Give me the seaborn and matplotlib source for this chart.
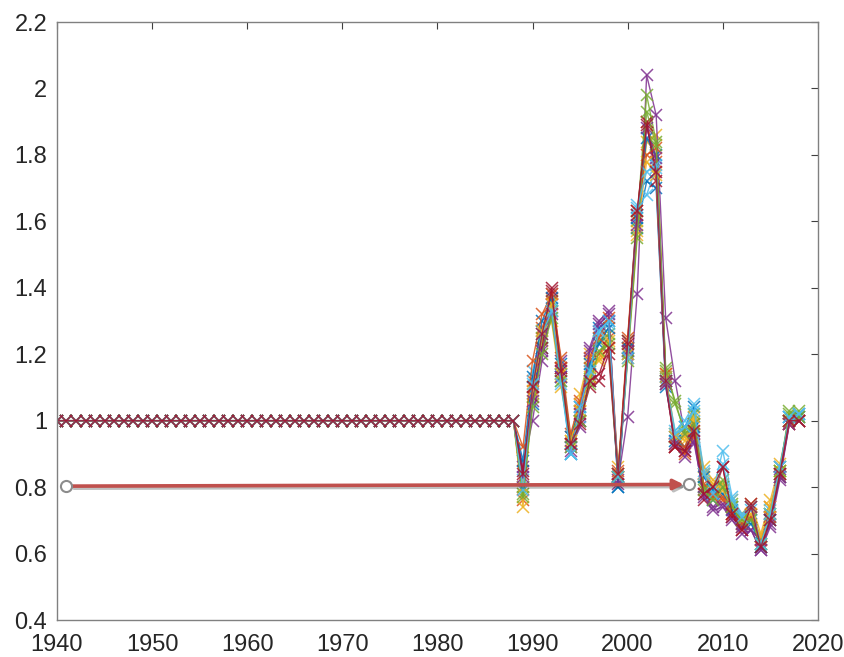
import numpy as np
import pandas as pd
import matplotlib
matplotlib.use("Agg")
import matplotlib.pyplot as plt
import matplotlib.patheffects as pe
import seaborn as sns

# Years: flat part (all series equal to 1) and the varying part
years_flat = list(range(1940, 1989))
years_var = list(range(1989, 2019))
flat_value = 1.0

# One list per series, 1989..2018
s01 = [0.80, 1.05, 1.22, 1.33, 1.13, 0.90, 1.00, 1.12, 1.28, 1.30, 0.80, 1.20, 1.58, 1.72, 1.70,
       1.10, 0.95, 0.98, 1.04, 0.80, 0.76, 0.80, 0.74, 0.71, 0.70, 0.62, 0.71, 0.83, 1.01, 1.02]
s02 = [0.76, 1.12, 1.28, 1.35, 1.16, 0.95, 1.05, 1.18, 1.20, 1.25, 0.84, 1.22, 1.62, 1.90, 1.78,
       1.12, 0.92, 0.90, 0.95, 0.84, 0.80, 0.76, 0.72, 0.68, 0.74, 0.64, 0.74, 0.86, 0.99, 1.00]
s03 = [0.74, 1.08, 1.24, 1.30, 1.10, 0.94, 1.08, 1.20, 1.18, 1.22, 0.86, 1.19, 1.56, 1.84, 1.86,
       1.14, 0.96, 0.94, 1.00, 0.86, 0.82, 0.81, 0.76, 0.72, 0.75, 0.66, 0.76, 0.87, 1.00, 1.01]
s04 = [0.86, 1.00, 1.18, 1.38, 1.18, 0.92, 0.98, 1.22, 1.30, 1.33, 0.82, 1.01, 1.38, 2.04, 1.92,
       1.31, 1.12, 0.96, 0.93, 0.78, 0.74, 0.75, 0.71, 0.68, 0.67, 0.61, 0.68, 0.82, 0.99, 1.00]
s05 = [0.78, 1.10, 1.25, 1.36, 1.14, 0.93, 1.03, 1.16, 1.24, 1.26, 0.83, 1.24, 1.60, 1.98, 1.84,
       1.16, 1.05, 0.97, 1.02, 0.80, 0.77, 0.82, 0.75, 0.70, 0.71, 0.63, 0.72, 0.85, 1.02, 1.03]
s06 = [0.82, 1.15, 1.27, 1.34, 1.12, 0.90, 1.01, 1.14, 1.26, 1.29, 0.84, 1.21, 1.65, 1.68, 1.76,
       1.12, 0.97, 1.00, 1.05, 0.85, 0.79, 0.91, 0.77, 0.72, 0.73, 0.63, 0.73, 0.86, 1.01, 1.02]
s07 = [0.85, 1.07, 1.22, 1.40, 1.16, 0.93, 1.00, 1.10, 1.12, 1.20, 0.83, 1.24, 1.62, 1.90, 1.72,
       1.11, 0.92, 0.91, 0.96, 0.76, 0.78, 0.86, 0.71, 0.67, 0.75, 0.62, 0.70, 0.83, 1.00, 1.00]
s08 = [0.88, 1.13, 1.30, 1.37, 1.17, 0.95, 1.04, 1.17, 1.23, 1.28, 0.80, 1.22, 1.61, 1.85, 1.80,
       1.13, 0.94, 0.92, 0.98, 0.83, 0.79, 0.78, 0.73, 0.69, 0.69, 0.62, 0.70, 0.84, 1.00, 1.01]
s09 = [0.92, 1.18, 1.32, 1.38, 1.19, 0.96, 1.06, 1.19, 1.25, 1.31, 0.85, 1.25, 1.63, 1.80, 1.82,
       1.14, 0.93, 0.92, 0.99, 0.81, 0.77, 0.77, 0.72, 0.69, 0.71, 0.64, 0.71, 0.84, 0.99, 1.00]
s10 = [0.80, 1.09, 1.27, 1.35, 1.14, 0.94, 1.03, 1.13, 1.19, 1.24, 0.84, 1.20, 1.57, 1.78, 1.74,
       1.13, 0.95, 0.95, 1.01, 0.84, 0.81, 0.79, 0.74, 0.70, 0.72, 0.65, 0.74, 0.85, 1.00, 1.00]
s11 = [0.83, 1.06, 1.21, 1.32, 1.13, 0.91, 1.02, 1.21, 1.29, 1.32, 0.81, 1.21, 1.59, 1.88, 1.79,
       1.11, 0.93, 0.89, 0.94, 0.77, 0.73, 0.74, 0.70, 0.66, 0.67, 0.61, 0.69, 0.83, 0.99, 1.00]
s12 = [0.77, 1.04, 1.20, 1.31, 1.12, 0.92, 1.00, 1.11, 1.21, 1.23, 0.83, 1.18, 1.55, 1.93, 1.83,
       1.15, 1.06, 0.96, 0.99, 0.79, 0.76, 0.80, 0.74, 0.70, 0.70, 0.63, 0.72, 0.85, 1.03, 1.01]
s13 = [0.79, 1.11, 1.26, 1.33, 1.11, 0.90, 1.04, 1.15, 1.27, 1.30, 0.83, 1.19, 1.64, 1.75, 1.77,
       1.12, 0.96, 0.98, 1.03, 0.84, 0.78, 0.87, 0.76, 0.71, 0.74, 0.63, 0.72, 0.86, 1.01, 1.02]
s14 = [0.84, 1.10, 1.26, 1.39, 1.15, 0.93, 0.99, 1.12, 1.14, 1.22, 0.84, 1.23, 1.63, 1.89, 1.75,
       1.12, 0.92, 0.91, 0.97, 0.78, 0.80, 0.86, 0.72, 0.67, 0.74, 0.62, 0.70, 0.84, 1.00, 1.00]

series = [s01, s02, s03, s04, s05, s06, s07, s08, s09, s10, s11, s12, s13, s14]

# MATLAB default colour order
matlab_colors = ["#0072BD", "#D95319", "#EDB120", "#7E2F8E", "#77AC30", "#4DBEEE", "#A2142F"]

# Annotation arrow (drawn on top of the chart)
arrow_start = (1941, 0.803)
arrow_end = (2006.5, 0.808)

x_ticks = list(range(1940, 2021, 10))
y_ticks = [0.4, 0.6, 0.8, 1.0, 1.2, 1.4, 1.6, 1.8, 2.0, 2.2]
y_tick_labels = ["0.4", "0.6", "0.8", "1", "1.2", "1.4", "1.6", "1.8", "2", "2.2"]

rows = []
for i, vals in enumerate(series):
    for yr in years_flat:
        rows.append({"year": yr, "value": flat_value, "series": f"s{i + 1:02d}"})
    for yr, v in zip(years_var, vals):
        rows.append({"year": yr, "value": v, "series": f"s{i + 1:02d}"})
df = pd.DataFrame(rows)

sns.set_style("white")
plt.rcParams["font.family"] = ["Liberation Sans", "DejaVu Sans"]

fig = plt.figure(figsize=(8.44, 6.57), dpi=100)
ax = fig.add_axes([0.0675, 0.0563, 0.9015, 0.9102])

palette = [matlab_colors[i % 7] for i in range(len(series))]
sns.lineplot(data=df, x="year", y="value", hue="series", palette=palette,
             estimator=None, legend=False, ax=ax, linewidth=1.0,
             marker="x", markersize=8, markeredgewidth=1.1, alpha=0.85)
# seaborn gives markers a white edge; 'x' markers need the line colour
for ln in ax.lines:
    ln.set_markeredgecolor(ln.get_color())

# red arrow with soft shadow and hollow circle ends
ax.annotate("", xy=(arrow_end[0] - 0.6, arrow_end[1]), xytext=arrow_start,
            arrowprops=dict(arrowstyle="-|>", color="#C0504D", lw=2.6,
                            mutation_scale=15, shrinkA=4, shrinkB=0,
                            path_effects=[pe.SimpleLineShadow(offset=(1.5, -1.5), alpha=0.25),
                                          pe.Normal()]),
            zorder=10)
ax.plot([arrow_start[0], arrow_end[0]], [arrow_start[1], arrow_end[1]], linestyle="none",
        marker="o", markersize=8, markerfacecolor="white", markeredgecolor="#8C8C8C",
        markeredgewidth=1.5, zorder=11)

ax.set_xlim(1940, 2020)
ax.set_ylim(0.4, 2.2)
ax.set_xticks(x_ticks)
ax.set_yticks(y_ticks)
ax.set_yticklabels(y_tick_labels)
ax.set_xlabel("")
ax.set_ylabel("")
ax.tick_params(direction="in", top=True, right=True, length=5, width=0.8,
               colors="#404040", labelsize=17, labelcolor="#262626")
ax.tick_params(axis="x", pad=10)
ax.tick_params(axis="y", pad=7)
for sp in ax.spines.values():
    sp.set_color("#808080")
    sp.set_linewidth(1.0)

fig.savefig("out.png", dpi=100)
